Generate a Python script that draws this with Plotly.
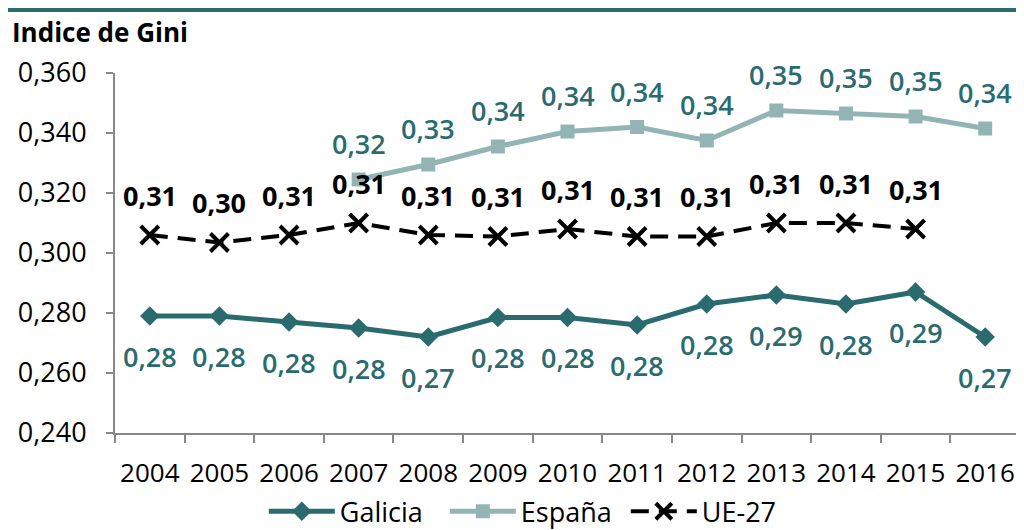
import plotly.graph_objects as go

years = ["2004", "2005", "2006", "2007", "2008", "2009", "2010", "2011", "2012", "2013", "2014", "2015", "2016"]
galicia = [0.279, 0.279, 0.277, 0.275, 0.272, 0.2785, 0.2785, 0.276, 0.283, 0.286, 0.283, 0.287, 0.272]
espana = [None, None, None, 0.3245, 0.3295, 0.3355, 0.3405, 0.342, 0.3375, 0.3475, 0.3465, 0.3455, 0.3415]
ue27 = [0.306, 0.3035, 0.306, 0.310, 0.306, 0.3055, 0.308, 0.3055, 0.3055, 0.310, 0.310, 0.308, None]

TEAL = "#2A6B70"
LIGHT = "#93B4B5"
FONT = "Open Sans"

def fmt(v):
    return ("%.2f" % v).replace(".", ",")

fig = go.Figure()
fig.add_trace(go.Scatter(x=years, y=galicia, name="Galicia", mode="lines+markers",
                         line=dict(color=TEAL, width=5),
                         marker=dict(symbol="diamond", size=15, color=TEAL)))
fig.add_trace(go.Scatter(x=years, y=espana, name="España", mode="lines+markers",
                         line=dict(color=LIGHT, width=5),
                         marker=dict(symbol="square", size=14, color=LIGHT)))
fig.add_trace(go.Scatter(x=years, y=ue27, name="UE-27", mode="lines+markers",
                         line=dict(color="black", width=4, dash="18px,10px"),
                         marker=dict(symbol="x-thin", size=18, color="black",
                                     line=dict(color="black", width=4))))

annotations = []
for series, shift, color, weight in [(galicia, -40, TEAL, 600), (espana, 36, TEAL, 600), (ue27, 40, "black", 700)]:
    for i, v in enumerate(series):
        if v is None:
            continue
        annotations.append(dict(x=i, y=v, xref="x", yref="y", text=fmt(v), showarrow=False,
                                yshift=shift, font=dict(family=FONT, size=27, color=color, weight=weight)))

annotations.append(dict(x=(10 - 115) / 905, y=(433 - 32) / 360, xref="paper", yref="paper",
                        text="Indice de Gini", showarrow=False, xanchor="left", yanchor="middle",
                        font=dict(family=FONT, size=26, color="black", weight=700)))

fig.update_layout(
    width=1016, height=522,
    margin=dict(l=107, r=4, t=65, b=97, autoexpand=False),
    paper_bgcolor="white", plot_bgcolor="white",
    separators=",.",
    font=dict(family=FONT, size=27, color="black"),
    showlegend=True,
    legend=dict(orientation="h", xref="container", yref="container", x=0.519, y=0.035,
                xanchor="center", yanchor="middle", font=dict(family=FONT, size=27),
                itemwidth=66, entrywidth=100, entrywidthmode="pixels", tracegroupgap=0),
    annotations=annotations,
    shapes=[dict(type="line", xref="paper", yref="paper",
                 x0=(8 - 115) / 905, x1=(1020 - 115) / 905,
                 y0=(433 - 10) / 360, y1=(433 - 10) / 360,
                 line=dict(color=TEAL, width=4))],
)
fig.update_xaxes(type="category", range=[-0.5, len(years) - 0.5], showgrid=False, showline=True,
                 automargin=False, linecolor="#888888", linewidth=2,
                 ticks="outside", tickson="boundaries", ticklen=8, tickcolor="#888888", tickwidth=2,
                 tickangle=0, ticklabelstandoff=16, tickfont=dict(family=FONT, size=26))
fig.update_yaxes(range=[0.240, 0.360], dtick=0.02, tickformat=".3f", showgrid=False, zeroline=False,
                 automargin=False, showline=True, linecolor="#888888", linewidth=2,
                 ticks="outside", ticklen=7, tickcolor="#888888", tickwidth=2,
                 ticklabelstandoff=14, tickfont=dict(family=FONT, size=27))

fig.write_html("out.html")
